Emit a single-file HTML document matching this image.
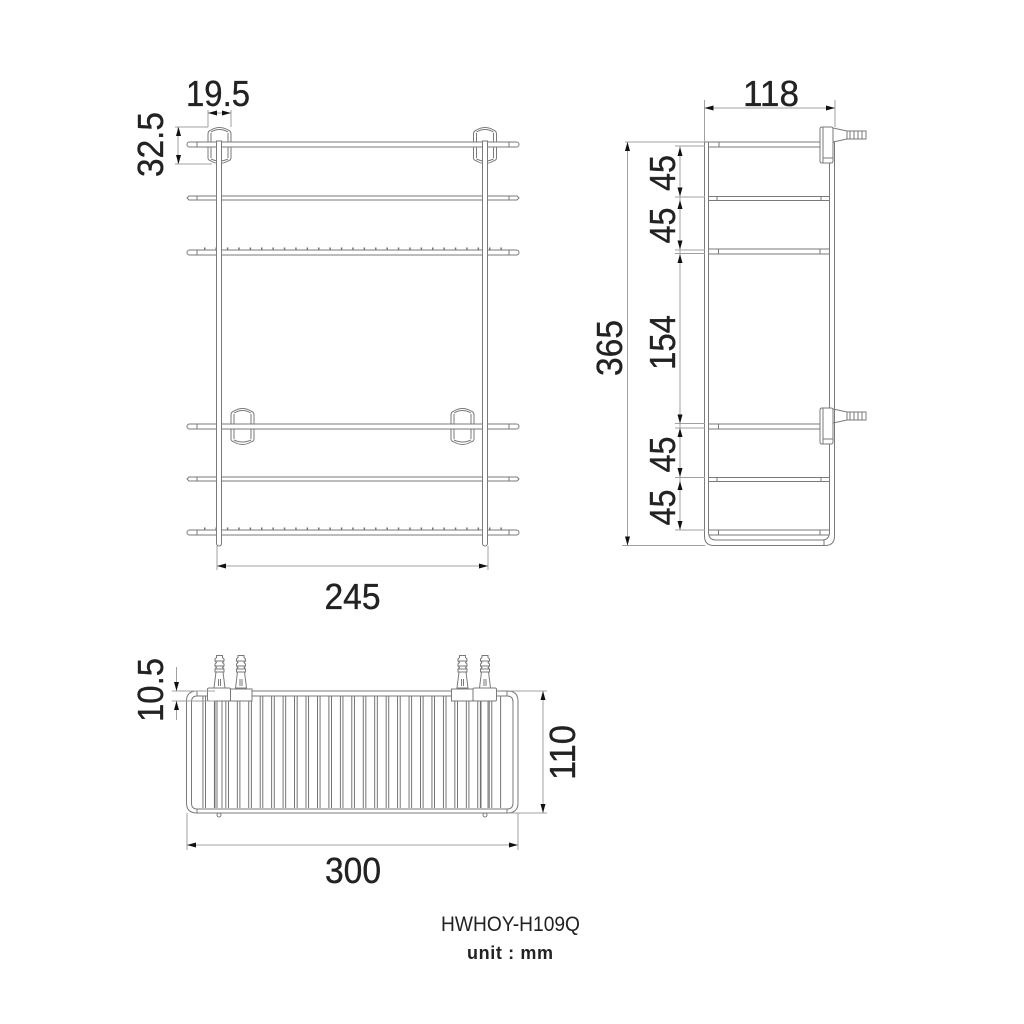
<!DOCTYPE html>
<html><head><meta charset="utf-8"><style>
html,body{margin:0;padding:0;background:#fff}
svg{display:block}
text{font-family:"Liberation Sans",sans-serif;fill:#222}
.d{font-size:36px;text-anchor:middle;stroke:#222;stroke-width:.35}
.l{fill:none;stroke:#7a7a7a;stroke-width:1}
.w{fill:#fff;stroke:#7a7a7a;stroke-width:1}
.m{fill:none;stroke:#a0a0a0;stroke-width:1}
.a{fill:#111;stroke:none}
</style></head><body>
<svg width="1024" height="1024" viewBox="0 0 1024 1024" xmlns="http://www.w3.org/2000/svg">
<defs>
<g id="shelf"><path class="w" d="M189.500 0H516.500a2.500 2.500 0 0 1 0 5H189.500a2.500 2.500 0 0 1 0-5Z"/><path class="l" d="M197 0V5M509 0V5"/></g>
<g id="thin"><path class="w" d="M189 0H517L519 2L517 4H189L187 2Z"/><path class="l" d="M197 0V4M509 0V4"/></g>
<g id="brk"><path class="w" d="M0 7Q0 4 3 3Q11.500 -2 20 3Q23 4 23 7V31Q23 33 20 34Q11.500 39 3 34Q0 33 0 31Z"/><path class="l" d="M3 5Q11.500 0 20 5M3 6V31M20 6V31M3 32Q11.500 36 20 32"/></g>
<g id="noz"><path class="w" d="M-5.500 33L-3.500 17H3.500L5.500 33Z"/><path class="w" d="M-4.500 17V14L-3 12.500L-4.500 11V9L-3 7.500L-4.500 6V4L-3 2.500V0.500H3V2.500L4.500 4V6L3 7.500L4.500 9V11L3 12.500L4.500 14V17Z"/><path class="l" d="M-4.500 6H4.500M-4.500 11H4.500M-4.500 14H4.500M-1 24V31M1 24V31"/></g>
<g id="side"><path class="w" d="M0 2Q0 0 2 0H11Q13 0 13 2V34Q13 36 11 36H2Q0 36 0 34Z"/><path class="l" d="M3 0V36M3 31H13M13 1L27 4H46V12H27L13 15M27 4V12M30 4V12M34 4V12M38 4V12M42 4V12"/></g>
<g id="arU"><path class="a" d="M0 0L-2.500 9H2.500Z"/></g>
<g id="arD"><path class="a" d="M0 0L-2.500 -9H2.500Z"/></g>
</defs>

<!-- FRONT VIEW -->
<use href="#brk" x="208" y="127"/>
<use href="#brk" x="473.500" y="127"/>
<use href="#brk" x="231" y="408"/>
<use href="#brk" x="451" y="408"/>
<use href="#shelf" x="0" y="142"/>
<use href="#thin" x="0" y="196"/>
<use href="#shelf" x="0" y="250"/>
<use href="#shelf" x="0" y="424"/>
<use href="#thin" x="0" y="477"/>
<use href="#shelf" x="0" y="530"/>
<line x1="204" x2="502" y1="248.500" y2="248.500" stroke="#777" stroke-width="2" stroke-dasharray="1.500 9.900"/>
<line x1="204" x2="502" y1="528.500" y2="528.500" stroke="#777" stroke-width="2" stroke-dasharray="1.500 9.900"/>
<path class="w" d="M216.500 141H221.500V543Q221.500 546 219 546Q216.500 546 216.500 543Z"/>
<path class="w" d="M482.500 141H487.500V543Q487.500 546 485 546Q482.500 546 482.500 543Z"/>

<!-- front dims -->
<path class="m" d="M208 110V127M231 110V127M175 127H208M175 164H212M178 127V164M208 113H231M217 546V570M488 546V570M217 566H488"/>
<path class="a" d="M208 113L217 110.500V115.500ZM231 113L222 110.500V115.500ZM217 566L226 563.500V568.500ZM488 566L479 563.500V568.500Z"/>
<use href="#arU" x="178.500" y="127"/><use href="#arD" x="178.500" y="164"/>
<text class="d" x="218" y="106" textLength="64" lengthAdjust="spacingAndGlyphs">19.5</text>
<text class="d" transform="translate(163,144.500) rotate(-90)" textLength="65" lengthAdjust="spacingAndGlyphs">32.5</text>
<text class="d" x="352.500" y="609" textLength="56" lengthAdjust="spacingAndGlyphs">245</text>

<!-- SIDE VIEW -->
<path class="l" d="M704.500 142V536Q704.500 545.500 714 545.500H825Q834.500 545.500 834.500 536V142"/>
<path class="l" d="M708.500 142V532Q708.500 540 716 540H822Q829.500 540 829.500 532V142M704.500 142H834.500M824 540V545.500"/>
<g class="l">
<path d="M708.500 142H829.500M708.500 147H829.500M719 142V147M708.500 196.500H829.500M708.500 200.500H829.500M717 196.500V200.500M821 196.500V200.500M708.500 249H829.500M708.500 254H829.500M718.500 249V254M820 249V254M708.500 424H829.500M708.500 429H829.500M718.500 424V429M708.500 477.500H829.500M708.500 481.500H829.500M717 477.500V481.500M821 477.500V481.500M708.500 530H829.500M708.500 535H829.500M718.500 530V535M820 530V535"/>
</g>
<use href="#side" x="820" y="127"/>
<use href="#side" x="820" y="408"/>

<!-- side dims -->
<path class="m" d="M704.500 100V142M835 100V127M704.500 108H835M625 142H705M622 545.500H705M627.500 142V545.500M675 146H705M675 197H705M675 250H705M675 253.500H705M675 423.500H705M675 428H705M675 477.500H705M675 530H705M680 146V530"/>
<path class="a" d="M704.500 108L713.500 105.500V110.500ZM835 108L826 105.500V110.500Z"/>
<use href="#arU" x="627.500" y="142"/><use href="#arD" x="627.500" y="545.500"/>
<use href="#arU" x="680" y="147"/><use href="#arD" x="680" y="196.500"/>
<use href="#arU" x="680" y="200"/><use href="#arD" x="680" y="249.500"/>
<use href="#arU" x="680" y="254"/><use href="#arD" x="680" y="423.500"/>
<use href="#arU" x="680" y="428"/><use href="#arD" x="680" y="477"/>
<use href="#arU" x="680" y="481"/><use href="#arD" x="680" y="530"/>
<text class="d" x="771" y="106" textLength="56" lengthAdjust="spacingAndGlyphs">118</text>
<text class="d" transform="translate(622,348) rotate(-90)" textLength="56" lengthAdjust="spacingAndGlyphs">365</text>
<text class="d" transform="translate(675,173) rotate(-90)" textLength="36" lengthAdjust="spacingAndGlyphs">45</text>
<text class="d" transform="translate(675,225.500) rotate(-90)" textLength="36" lengthAdjust="spacingAndGlyphs">45</text>
<text class="d" transform="translate(675,342.500) rotate(-90)" textLength="55" lengthAdjust="spacingAndGlyphs">154</text>
<text class="d" transform="translate(675,454.500) rotate(-90)" textLength="36" lengthAdjust="spacingAndGlyphs">45</text>
<text class="d" transform="translate(675,507.500) rotate(-90)" textLength="36" lengthAdjust="spacingAndGlyphs">45</text>

<!-- TOP VIEW -->
<line x1="202.500" x2="502" y1="752" y2="752" stroke="#666" stroke-width="112" stroke-dasharray="0.900 1.700 0.900 7.950"/>
<path class="l" d="M186.500 701Q186.500 691 197 691H507Q518 691 518 701V803Q518 813 507 813H197Q186.500 813 186.500 803Z"/>
<path class="l" d="M197 696H507M197 809H507M197 691V696M507 691V696M197 809V813M507 809V813"/>
<path class="l" d="M191.500 702Q191.500 696 197 696M191.500 803Q191.500 809 197 809M513 702Q513 696 507 696M513 803Q513 809 507 809M191.500 702V803M513 702V803"/>
<use href="#noz" x="219.500" y="655"/>
<use href="#noz" x="241" y="655"/>
<use href="#noz" x="462.500" y="655"/>
<use href="#noz" x="485" y="655"/>
<rect class="w" x="230.500" y="689" width="21.500" height="12"/>
<rect class="w" x="451.500" y="689" width="21.500" height="12"/>
<rect class="w" x="207.500" y="688" width="23" height="13" rx="1.500"/>
<rect class="w" x="473" y="688" width="23.500" height="13" rx="1.500"/>
<path class="l" d="M215 701V808M222 701V808M481 701V808M488 701V808"/>
<circle class="w" cx="219" cy="815" r="2"/>
<circle class="w" cx="485" cy="815" r="2"/>

<!-- top dims -->
<path class="m" d="M172 691H215M172 701H215M176.500 667V691M176.500 701V720M187 813V850M518 813V850M187 845H518M510 691H547M510 813H547M543 691V813"/>
<use href="#arD" x="176.500" y="691"/><use href="#arU" x="176.500" y="701"/>
<use href="#arU" x="543" y="691"/><use href="#arD" x="543" y="813"/>
<path class="a" d="M187 845L196 842.500V847.500ZM518 845L509 842.500V847.500Z"/>
<text class="d" transform="translate(163,690) rotate(-90)" textLength="64" lengthAdjust="spacingAndGlyphs">10.5</text>
<text class="d" transform="translate(575,752.500) rotate(-90)" textLength="55" lengthAdjust="spacingAndGlyphs">110</text>
<text class="d" x="353" y="883" textLength="56" lengthAdjust="spacingAndGlyphs">300</text>

<!-- caption -->
<text x="510.500" y="931" text-anchor="middle" font-size="21" textLength="139" lengthAdjust="spacingAndGlyphs">HWHOY-H109Q</text>
<text x="510" y="959" text-anchor="middle" font-size="18" textLength="86" style="font-weight:bold;stroke:none" lengthAdjust="spacing">unit : mm</text>
</svg>
</body></html>
